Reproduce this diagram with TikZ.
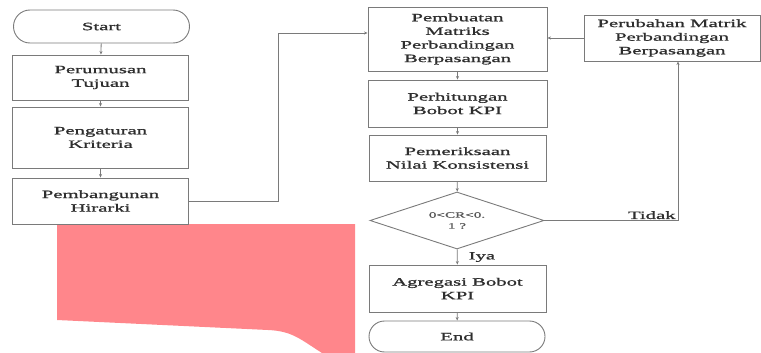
\documentclass[tikz,border=0pt]{standalone}
\usepackage{fontspec}
\setmainfont{Liberation Serif}[FakeStretch=1.85, FakeBold=1.2]
\usetikzlibrary{arrows.meta,positioning,shapes.geometric,shapes.misc}
\definecolor{cLine}{HTML}{7A7A7A}
\definecolor{cText}{HTML}{2E2E2E}
\definecolor{cMark}{HTML}{FF868B}

\begin{document}
\begin{tikzpicture}[x=1pt, y=-1pt,
    box/.style={draw=cLine, line width=0.9pt, rectangle, minimum width=176pt, align=center,
        text=cText, inner sep=1pt, font=\fontsize{11.2}{13.6}\selectfont},
    term/.style={box, rounded rectangle, minimum width=178pt},
    check/.style={draw=cLine, line width=0.9pt, diamond, aspect=3, minimum width=174pt,
        minimum height=57pt, inner sep=0pt, align=center, text=cText!80,
        font=\fontsize{8.2}{11}\selectfont},
    flow/.style={draw=cLine, line width=0.8pt, -{Stealth[length=3.5pt, width=3pt]}},
    lbl/.style={text=cText, inner sep=1pt, font=\fontsize{11.2}{13.6}\selectfont}]
\useasboundingbox (0,0) rectangle (761,353);

% Highlight patch
\fill[cMark] (57,224) -- (355,224) -- (355,353) -- (322,353)
    .. controls (300,339) and (292,331) .. (268,330) -- (57,320) -- cycle;

% Left column
\node[term, minimum height=33pt] (start) at (101.5,26.5) {Start};
\node[box, minimum height=45pt] (tujuan) at (100.5,77.5) {Perumusan\\Tujuan};
\node[box, minimum height=61pt] (kriteria) at (100.5,137.5) {Pengaturan\\Kriteria};
\node[box, minimum height=46pt] (hirarki) at (100.5,201) {Pembangunan\\Hirarki};

% Right column
\node[box, minimum width=179pt, minimum height=64pt] (matriks) at (457.5,39)
    {Pembuatan\\Matriks\\Perbandingan\\Berpasangan};
\node[box, minimum width=179pt, minimum height=47pt] (bobot) at (457.5,103.5) {Perhitungan\\Bobot KPI};
\node[box, minimum width=177pt, minimum height=46pt] (konsistensi) at (457.5,158) {Pemeriksaan\\Nilai Konsistensi};
\node[check] (cek) at (457,220.5) {0<CR<0.\\1 ?};
\node[box, minimum width=177pt, minimum height=47pt] (agregasi) at (457.5,288.5) {Agregasi Bobot\\KPI};
\node[term, minimum height=31pt] (end) at (457,336.5) {End};

% Revision box
\node[box, minimum height=46pt] (ubah) at (672,38) {Perubahan Matrik\\Perbandingan\\Berpasangan};

% Flow
\draw[flow] (start) -- (tujuan);
\draw[flow] (tujuan) -- (kriteria);
\draw[flow] (kriteria) -- (hirarki);
\draw[flow] (hirarki.east) -- (278,201) |- ([yshift=6pt]matriks.west);
\draw[flow] (matriks) -- (bobot);
\draw[flow] (bobot) -- (konsistensi);
\draw[flow] (konsistensi) -- (cek);
\draw[flow] (cek) -- node[lbl, right, xshift=10pt] (iya) {Iya} (agregasi);
\draw[flow] (agregasi) -- (end);
\draw[flow] (cek.east) -| node[lbl, pos=0.5, above left, xshift=-1pt] (tidak) {Tidak} ([xshift=6pt]ubah.south);
\draw[flow] (ubah.west) -- (ubah.west -| matriks.east);

\end{tikzpicture}
\end{document}
